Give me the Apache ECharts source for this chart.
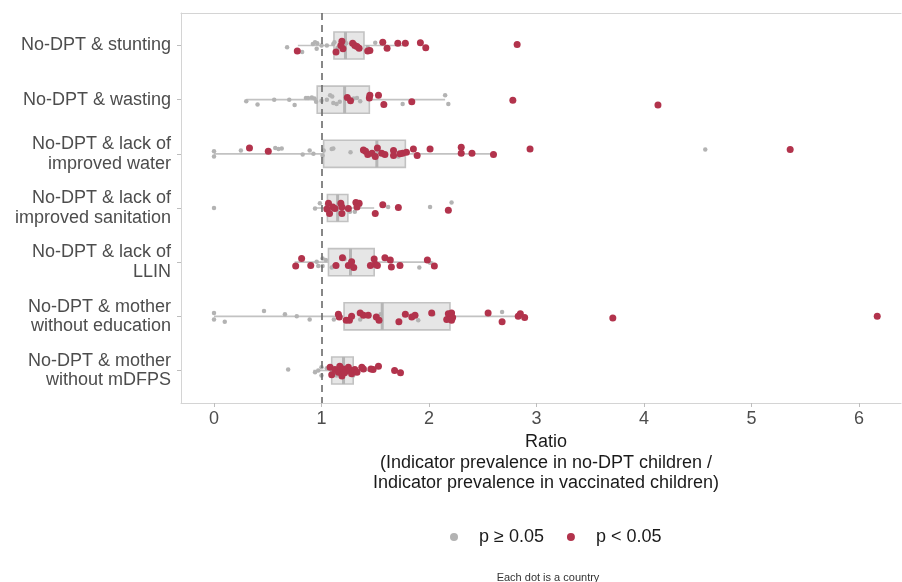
<!DOCTYPE html>
<html>
<head>
<meta charset="utf-8">
<script src="https://cdn.jsdelivr.net/npm/echarts@6/dist/echarts.min.js"></script>
<style>
html,body{margin:0;padding:0;background:#fff;}
#chart{width:902px;height:582px;}
</style>
</head>
<body>
<div id="chart"></div>
<script>
// ---- categories (top to bottom) ----
var categories = [
  'No-DPT & stunting',
  'No-DPT & wasting',
  'No-DPT & lack of\nimproved water',
  'No-DPT & lack of\nimproved sanitation',
  'No-DPT & lack of\nLLIN',
  'No-DPT & mother\nwithout education',
  'No-DPT & mother\nwithout mDFPS'
];
var xTicks = [0, 1, 2, 3, 4, 5, 6];

// ---- box statistics (whisker low, Q1, median, Q3, whisker high) ----
var boxLower  = [0.78, 0.30, 0.00, 0.94, 0.75, 0.00, 0.925];
var boxQ1     = [1.116, 0.96, 1.02, 1.055, 1.065, 1.21, 1.095];
var boxMedian = [1.223, 1.215, 1.515, 1.15, 1.27, 1.565, 1.205];
var boxQ3     = [1.395, 1.445, 1.78, 1.245, 1.49, 2.195, 1.295];
var boxUpper  = [1.76, 2.15, 2.60, 1.49, 2.04, 2.88, 1.50];

// ---- country ratios: [ratio, jitter] (p >= 0.05) ----
var greyStunting = [[0.68,0.03],[0.82,0.12],[0.92,-0.03],[0.955,0.06],[0.94,-0.06],[0.96,-0.04],[1.00,0],[1.05,0],[1.11,-0.03],[1.13,0.12],[1.12,-0.06],[1.15,0.04],[1.23,-0.04],[1.28,-0.03],[1.33,0],[1.43,0.03],[1.50,-0.05]];
var greyWasting = [[0.30,0.03],[0.405,0.09],[0.56,0],[0.70,0],[0.75,0.1],[0.855,-0.03],[0.875,-0.03],[0.91,-0.04],[0.935,-0.02],[0.95,0.04],[1.0,0.02],[1.05,0],[1.08,-0.08],[1.10,-0.06],[1.11,0.06],[1.14,0.08],[1.17,0.04],[1.30,-0.02],[1.33,-0.03],[1.36,0.03],[1.755,0.08],[2.15,-0.08],[2.18,0.08]];
var greyWater = [[0.0,-0.05],[0.0,0.05],[0.25,-0.06],[0.57,-0.11],[0.60,-0.09],[0.63,-0.1],[0.825,0.01],[0.89,-0.06],[0.925,0],[1.01,0.03],[1.02,-0.06],[1.095,-0.09],[1.11,-0.1],[1.27,-0.03],[1.51,-0.09],[1.575,-0.01],[1.715,0.05],[4.57,-0.08]];
var greySanitation = [[0.0,0],[0.94,0.01],[0.985,-0.09],[1.05,-0.06],[1.075,0.07],[1.11,0.02],[1.16,-0.09],[1.265,0.07],[1.31,0.07],[1.36,-0.06],[1.62,-0.02],[2.01,-0.02],[2.21,-0.10]];
var greyLLIN = [[0.955,-0.01],[0.97,0.07],[1.01,0.07],[1.01,-0.07],[1.04,-0.04],[1.095,0.10],[1.115,0.07],[1.215,-0.06],[1.29,-0.01],[1.91,0.10],[2.01,0.01]];
var greyEducation = [[0.0,-0.06],[0.0,0.06],[0.10,0.10],[0.465,-0.10],[0.66,-0.04],[0.77,0],[0.89,0.06],[1.115,0.06],[1.36,0.06],[1.55,-0.04],[1.90,0.07],[2.04,-0.04],[2.68,-0.08]];
var greyMDFPS = [[0.69,-0.02],[0.94,0.03],[0.97,0],[1.0,-0.06],[1.0,0.09],[1.05,-0.04],[1.095,0],[1.14,0.09],[1.23,0.03],[1.295,0.09]];

// ---- country ratios: [ratio, jitter] (p < 0.05) ----
var redStunting = [[0.775,0.1],[1.135,0.12],[1.19,-0.08],[1.20,0.06],[1.18,0.0],[1.29,-0.04],[1.31,0],[1.33,0.02],[1.35,0.05],[1.43,0.1],[1.45,0.09],[1.57,-0.06],[1.61,0.05],[1.71,-0.04],[1.78,-0.04],[1.92,-0.05],[1.97,0.04],[2.82,-0.02]];
var redWasting = [[1.24,-0.04],[1.27,0.02],[1.445,-0.03],[1.45,-0.08],[1.53,-0.08],[1.58,0.09],[1.84,0.04],[2.78,0.01],[4.13,0.1]];
var redWater = [[0.33,-0.11],[0.505,-0.05],[1.39,-0.07],[1.41,-0.05],[1.43,0.01],[1.47,-0.01],[1.50,0.05],[1.52,-0.11],[1.56,-0.01],[1.59,0.01],[1.67,-0.06],[1.67,0.03],[1.73,0],[1.755,-0.01],[1.79,-0.03],[1.855,-0.09],[1.89,0.03],[2.01,-0.09],[2.30,-0.12],[2.30,-0.01],[2.40,-0.01],[2.60,0.01],[2.94,-0.09],[5.36,-0.08]];
var redSanitation = [[1.05,0.02],[1.065,-0.09],[1.075,0.10],[1.105,-0.02],[1.125,0.01],[1.18,-0.09],[1.19,-0.02],[1.19,0.10],[1.25,0.01],[1.32,-0.10],[1.35,-0.09],[1.33,-0.02],[1.50,0.10],[1.57,-0.06],[1.715,-0.01],[2.18,0.04]];
var redLLIN = [[0.76,0.07],[0.815,-0.07],[0.90,0.06],[1.135,0.06],[1.195,-0.08],[1.25,0.06],[1.28,-0.01],[1.30,0.10],[1.455,0.06],[1.49,-0.06],[1.50,0.04],[1.52,0.06],[1.59,-0.08],[1.64,-0.04],[1.65,0.09],[1.73,0.06],[1.985,-0.04],[2.05,0.07]];
var redEducation = [[1.157,-0.04],[1.165,0.01],[1.23,0.07],[1.26,0.07],[1.28,0],[1.36,-0.06],[1.39,-0.02],[1.435,-0.02],[1.51,0.01],[1.535,0.07],[1.72,0.10],[1.78,-0.04],[1.84,0.01],[1.87,-0.02],[2.025,-0.06],[2.18,-0.05],[2.21,-0.06],[2.165,0.06],[2.21,0.07],[2.22,0.02],[2.55,-0.06],[2.68,0.10],[2.83,0],[2.85,-0.05],[2.89,0.02],[3.71,0.03],[6.17,0.0]];
var redMDFPS = [[1.08,-0.06],[1.095,0.08],[1.125,-0.02],[1.157,0.03],[1.17,-0.08],[1.19,0.10],[1.20,-0.03],[1.215,0.04],[1.25,-0.06],[1.265,0],[1.28,0.06],[1.31,-0.02],[1.33,0.03],[1.375,-0.06],[1.39,-0.03],[1.46,-0.03],[1.48,-0.02],[1.53,-0.08],[1.68,0],[1.735,0.04]];

var greyRows = [greyStunting, greyWasting, greyWater, greySanitation, greyLLIN, greyEducation, greyMDFPS];
var redRows = [redStunting, redWasting, redWater, redSanitation, redLLIN, redEducation, redMDFPS];

function toPoints(rows) {
  var out = [];
  rows.forEach(function (row, i) {
    row.forEach(function (p) { out.push([p[0], i + p[1]]); });
  });
  return out;
}
var boxData = categories.map(function (c, i) {
  return [i, boxLower[i], boxQ1[i], boxMedian[i], boxQ3[i], boxUpper[i]];
});

var BOX_HALF = 0.25;
var frameColor = '#d4d4d4';
var chart = echarts.init(document.getElementById('chart'), null, {renderer: 'canvas'});
var option = {
  backgroundColor: '#ffffff',
  animation: false,
  textStyle: {fontFamily: 'Liberation Sans, Arial, sans-serif'},
  grid: {
    left: 181, top: 13, right: 1, bottom: 179,
    show: false, containLabel: false
  },
  xAxis: [{
    type: 'value', min: -0.307, max: 6.391,
    axisLine: {show: true, onZero: false, lineStyle: {color: frameColor, width: 1}},
    splitLine: {show: false},
    axisTick: {show: true, length: 4, lineStyle: {color: '#bdbdbd'}, customValues: xTicks},
    axisLabel: {customValues: xTicks, color: '#4d4d4d', fontSize: 18, margin: 7}
  }, {
    type: 'value', position: 'top', min: -0.307, max: 6.391,
    axisLine: {show: true, onZero: false, lineStyle: {color: frameColor, width: 1}},
    splitLine: {show: false}, axisTick: {show: false}, axisLabel: {show: false}
  }],
  yAxis: {
    type: 'value', min: -0.6, max: 6.6, inverse: true,
    axisLine: {show: true, onZero: false, lineStyle: {color: frameColor, width: 1}},
    splitLine: {show: false},
    axisTick: {show: true, length: 4, lineStyle: {color: '#bdbdbd'}, customValues: [0,1,2,3,4,5,6]},
    axisLabel: {
      customValues: [0,1,2,3,4,5,6],
      formatter: function (v) { return categories[Math.round(v)]; },
      color: '#4d4d4d', fontSize: 18, lineHeight: 19.5, align: 'right', margin: 10
    }
  },
  legend: {
    left: 445, top: 523,
    itemWidth: 40, itemHeight: 8, itemGap: 23,
    textStyle: {fontSize: 18, color: '#1a1a1a'},
    data: [{name: 'p ≥ 0.05', icon: 'circle'}, {name: 'p < 0.05', icon: 'circle'}]
  },
  title: [{
    text: 'Ratio\n(Indicator prevalence in no-DPT children /\nIndicator prevalence in vaccinated children)',
    left: 541, top: 427, textAlign: 'center',
    textStyle: {fontSize: 18, fontWeight: 'normal', color: '#1a1a1a', lineHeight: 20.5, align: 'center'}
  }, {
    text: 'Each dot is a country',
    left: 543, top: 567, textAlign: 'center',
    textStyle: {fontSize: 11, fontWeight: 'normal', color: '#333333'}
  }],
  series: [
    {
      type: 'custom', name: 'box', silent: true,
      data: boxData,
      encode: {x: [1, 2, 3, 4, 5], y: 0},
      renderItem: function (params, api) {
        var cat = api.value(0);
        var pLo = api.coord([api.value(1), cat]);
        var pQ1 = api.coord([api.value(2), cat]);
        var pMed = api.coord([api.value(3), cat]);
        var pQ3 = api.coord([api.value(4), cat]);
        var pHi = api.coord([api.value(5), cat]);
        var h = Math.abs(api.size([0, BOX_HALF * 2])[1]);
        var stroke = '#c2c2c2';
        return {
          type: 'group',
          children: [
            {type: 'line', shape: {x1: pLo[0], y1: pLo[1], x2: pQ1[0], y2: pQ1[1]}, style: {stroke: stroke, lineWidth: 1.6}},
            {type: 'line', shape: {x1: pQ3[0], y1: pQ3[1], x2: pHi[0], y2: pHi[1]}, style: {stroke: stroke, lineWidth: 1.6}},
            {type: 'rect', shape: {x: pQ1[0], y: pQ1[1] - h / 2, width: pQ3[0] - pQ1[0], height: h}, style: {fill: 'rgba(222,222,222,0.75)', stroke: stroke, lineWidth: 1.6}},
            {type: 'line', shape: {x1: pMed[0], y1: pMed[1] - h / 2, x2: pMed[0], y2: pMed[1] + h / 2}, style: {stroke: '#b5b5b5', lineWidth: 3}}
          ]
        };
      },
      markLine: {
        silent: true, symbol: 'none',
        label: {show: false},
        lineStyle: {type: [7, 5], color: '#6a6a6a', width: 1.6},
        data: [{xAxis: 1}]
      },
      z: 1
    },
    {
      type: 'scatter', name: 'p ≥ 0.05',
      data: toPoints(greyRows),
      symbol: 'circle', symbolSize: 4.5,
      itemStyle: {color: '#b3b3b3', opacity: 1},
      z: 3
    },
    {
      type: 'scatter', name: 'p < 0.05',
      data: toPoints(redRows),
      symbol: 'circle', symbolSize: 7,
      itemStyle: {color: '#b2334c', opacity: 1},
      z: 4
    }
  ]
};
chart.setOption(option);
</script>
</body>
</html>
